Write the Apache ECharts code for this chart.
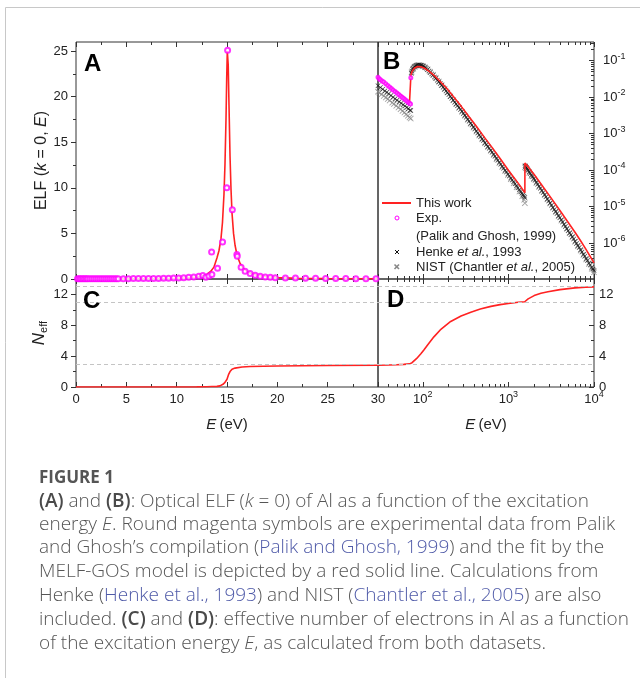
<!DOCTYPE html>
<html><head><meta charset="utf-8">
<script src="https://cdn.jsdelivr.net/npm/echarts@6/dist/echarts.min.js"></script>
<style>html,body{margin:0;padding:0;background:#fff}#c{width:640px;height:678px}</style>
</head><body><div id="c"></div>
<script>
// ---------------- DATA ----------------
// Panel A: ELF (k=0) vs E (eV), linear scale
const fitA = [[0,0.01],[2,0.01],[4,0.02],[6,0.03],[8,0.05],[10,0.09],[11,0.13],[12,0.22],[12.5,0.32],[13,0.5],[13.4,0.85],[13.7,1.3],[14.0,2.3],[14.2,3.1],[14.4,4.4],[14.55,6.2],[14.7,9.3],[14.8,12.6],[14.9,17.5],[14.97,22.0],[15.03,25.0],[15.07,25.2],[15.12,23.5],[15.2,19.0],[15.3,13.5],[15.4,9.8],[15.5,7.2],[15.65,5.0],[15.8,3.7],[16.0,2.6],[16.3,1.7],[16.6,1.2],[17.0,0.8],[17.5,0.55],[18,0.4],[19,0.25],[20,0.16],[22,0.09],[25,0.05],[30,0.03]];
const expA = [[0.15,0.04],[0.3,0.04],[0.45,0.04],[0.6,0.04],[0.75,0.04],[0.9,0.04],[1.05,0.04],[1.2,0.04],[1.4,0.04],[1.6,0.04],[1.8,0.04],[2.0,0.04],[2.2,0.04],[2.4,0.04],[2.6,0.04],[2.8,0.04],[3.0,0.04],[3.2,0.04],[3.4,0.04],[3.6,0.04],[3.8,0.04],[4.0,0.04],[4.2,0.04],[4.7,0.04],[5.2,0.04],[5.7,0.05],[6.2,0.05],[6.7,0.05],[7.2,0.05],[7.7,0.06],[8.2,0.06],[8.7,0.07],[9.2,0.08],[9.7,0.1],[10.2,0.12],[10.7,0.15],[11.2,0.18],[11.7,0.22],[12.2,0.3],[12.6,0.38],[12.9,0.2],[13.2,0.32],[13.47,2.96],[13.5,0.5],[14.06,1.18],[14.56,4.06],[14.98,10.0],[15.06,25.1],[15.53,7.6],[15.98,2.7],[16.02,2.5],[16.4,1.3],[16.8,0.85],[17.3,0.6],[17.8,0.42],[18.3,0.3],[18.8,0.22],[19.3,0.18],[19.8,0.15],[20.8,0.12],[21.8,0.1],[22.8,0.08],[23.8,0.07],[24.8,0.06],[25.8,0.05],[26.8,0.05],[27.8,0.04],[28.8,0.04],[29.8,0.04]];

// Panel B: ELF vs E, log-log
const fitB = [[30,0.032],[33,0.027],[36,0.0235],[40,0.0198],[45,0.0163],[50,0.0137],[55,0.0117],[60,0.0099],[65,0.0084],[70,0.0071],[72.6,0.0066],[72.7,0.040],[75,0.051],[80,0.063],[87,0.069],[95,0.068],[105,0.062],[120,0.050],[140,0.037],[160,0.027],[190,0.0175],[230,0.0102],[280,0.0057],[340,0.0031],[420,0.00163],[520,0.00082],[650,0.00041],[800,0.00021],[1000,0.0001],[1200,0.000057],[1400,0.000035],[1558,0.000024],[1560,0.000158],[1700,0.000124],[2000,0.000076],[2500,0.000037],[3000,0.0000205],[4000,0.0000079],[5000,0.0000037],[6000,0.000002],[7000,0.00000115],[8000,0.0000007],[9000,0.00000044],[10000,0.00000029]];
const expB = [[30,0.035],[31,0.032],[32,0.030],[33.5,0.028],[35,0.026],[37,0.0235],[39,0.021],[41,0.019],[43,0.0172],[45,0.0158],[47.5,0.0143],[50,0.013],[52.5,0.0118],[55,0.0108],[57.5,0.0099],[60,0.0092],[62.5,0.0085],[65,0.0079],[67.5,0.0073],[70,0.0068],[72,0.0065],[72.5,0.034]];
const henkeB = [[30,0.0205],[32,0.0183],[34,0.0165],[36,0.0149],[38,0.0136],[40,0.0124],[42.5,0.0111],[45,0.01],[47.5,0.0091],[50,0.0083],[53,0.0075],[56,0.0068],[59,0.0062],[62,0.0057],[65,0.0052],[68,0.0048],[71,0.0044],[72.5,0.0043],
[73.5,0.045],[74.7,0.052],[76,0.058],[77.5,0.063],[79,0.067],[81,0.07],[83,0.073],[85,0.075],[87,0.076],[89.5,0.0765],[92,0.076],[94.5,0.075],[97,0.074],[100,0.0715],[103,0.069],[106.5,0.0655],[110,0.062],[114,0.057],[118,0.052],[122.5,0.0478],[127,0.0435],[132,0.0397],[137,0.036],[142.5,0.0325],[148,0.0292],[154,0.0262],[160,0.0236],[166.5,0.021],[173,0.0187],[180,0.0166],[187,0.0148],[194.5,0.0132],[202,0.0118],[210,0.0105],[218,0.0093],[227,0.0082],[236,0.0073],[245.5,0.0065],[255,0.0058],[265.5,0.0052],[276,0.0046],[287,0.0041],[298,0.0036],[310,0.0032],[322,0.00282],[335,0.0025],[348,0.0022],[362,0.00195],[376,0.00172],[391,0.00152],[406,0.00135],[422,0.00119],[439,0.00105],[456,0.00093],[474,0.00083],[493,0.00073],[512,0.00065],[532,0.00057],[553,0.00051],[575,0.00045],[598,0.0004],[622,0.000352],[646,0.00031],[672,0.000273],[698,0.00024],[726,0.000212],[754,0.000188],[784,0.000165],[815,0.000146],[847,0.000129],[880,0.000114],[915,0.0001],[951,0.000089],[988,0.000079],[1027,0.00007],[1067,0.000061],[1110,0.000054],[1153,0.000048],[1199,0.0000425],[1245,0.0000375],[1295,0.000033],[1345,0.0000293],[1399,0.0000258],[1440,0.0000234],[1480,0.0000212],[1520,0.0000195],[1555,0.000018],
[1565,0.000132],[1590,0.000126],[1620,0.000118],[1660,0.000109],[1700,0.0001],[1750,0.000091],[1800,0.000082],[1860,0.000074],[1920,0.000066],[1980,0.000059],[2050,0.000053],[2120,0.000047],[2200,0.000041],[2280,0.0000365],[2370,0.000032],[2460,0.000028],[2550,0.0000245],[2650,0.0000214],[2750,0.0000187],[2850,0.0000164],[2960,0.0000144],[3070,0.0000126],[3190,0.000011],[3310,0.0000096],[3440,0.0000084],[3570,0.0000074],[3700,0.0000065],[3850,0.0000057],[3990,0.000005],[4150,0.0000044],[4300,0.0000038],[4470,0.0000033],[4630,0.0000029],[4810,0.0000025],[4990,0.0000022],[5180,0.0000019],[5370,0.0000017],[5580,0.0000015],[5790,0.0000013],[6010,0.00000114],[6240,0.00000099],[6480,0.00000087],[6720,0.00000076],[6980,0.00000066],[7240,0.00000058],[7520,0.0000005],[7800,0.00000044],[8100,0.00000038],[8400,0.000000335],[8730,0.00000029],[9050,0.000000255],[9400,0.000000222],[9750,0.000000195],[10000,0.00000018]];
const nistB = [[30,0.0142],[31,0.0134],[33,0.012],[35,0.0108],[37,0.0098],[39,0.0089],[41,0.0081],[44,0.0071],[46,0.0065],[49,0.0058],[52,0.0052],[55,0.0047],[58,0.0042],[61,0.0038],[64,0.0034],[67,0.0031],[70,0.0028],[72.4,0.0026],
[74,0.048],[77.5,0.06],[81,0.068],[85,0.073],[89.5,0.075],[94.5,0.074],[100,0.071],[106,0.066],[114,0.058],[122,0.05],[132,0.041],[142,0.034],[154,0.027],[166,0.0215],[180,0.017],[194,0.0135],[210,0.0106],[227,0.0083],[245,0.0065],[265,0.0051],[287,0.004],[310,0.0031],[335,0.0024],[362,0.00188],[391,0.00147],[422,0.00115],[456,0.0009],[493,0.0007],[532,0.00055],[575,0.00043],[622,0.00034],[672,0.00026],[726,0.0002],[784,0.000158],[847,0.000122],[915,0.000095],[988,0.000074],[1067,0.000057],[1153,0.000044],[1245,0.000034],[1345,0.000026],[1453,0.0000195],[1530,0.0000155],[1558,0.0000125],
[1563,0.00012],[1600,0.000113],[1660,0.0001],[1750,0.000085],[1860,0.00007],[1980,0.000057],[2120,0.000045],[2280,0.000035],[2460,0.000027],[2650,0.000021],[2850,0.000016],[3070,0.0000123],[3310,0.0000094],[3570,0.0000072],[3850,0.0000055],[4150,0.0000042],[4470,0.0000032],[4810,0.0000025],[5180,0.0000019],[5580,0.00000145],[6010,0.0000011],[6480,0.00000083],[6980,0.00000063],[7520,0.00000048],[8100,0.00000036],[8730,0.00000027],[9400,0.0000002],[10000,0.00000016]];

// Panels C and D: effective number of electrons
const neffC = [[0,0],[5,0],[10,0.005],[12,0.02],[13,0.04],[13.5,0.06],[14,0.08],[14.3,0.15],[14.6,0.35],[14.8,0.6],[15.0,1.0],[15.15,1.6],[15.3,2.0],[15.5,2.3],[15.8,2.45],[16.5,2.6],[17.3,2.66],[20,2.72],[25,2.78],[30,2.82]];
const neffD = [[30,2.82],[40,2.85],[50,2.88],[60,2.93],[70,3.0],[75,3.15],[85,3.7],[95,4.3],[103,4.8],[115,5.5],[135,6.5],[160,7.4],[212,8.5],[280,9.2],[364,9.7],[470,10.1],[625,10.45],[800,10.68],[1000,10.83],[1300,10.98],[1550,11.05],[1700,11.42],[2000,11.85],[2400,12.15],[2900,12.35],[4000,12.62],[6000,12.85],[8000,12.93],[10000,12.98]];
const neffLevels = [3, 11, 13];

// Tick values
const ticksE = [0,5,10,15,20,25,30];
const minorE = [2.5,7.5,12.5,17.5,22.5,27.5];
const ticksELF = [0,5,10,15,20,25];
const minorELF = [2.5,7.5,12.5,17.5,22.5];
const ticksLogE = [100,1000,10000];
const minorLogE = [40,50,60,70,80,90,200,300,400,500,600,700,800,900,2000,3000,4000,5000,6000,7000,8000,9000];
const ticksLogELF = [1e-6,1e-5,1e-4,1e-3,1e-2,1e-1];
const minorLogELF = [2e-7,3e-7,4e-7,5e-7,6e-7,7e-7,8e-7,9e-7,2e-6,3e-6,4e-6,5e-6,6e-6,7e-6,8e-6,9e-6,2e-5,3e-5,4e-5,5e-5,6e-5,7e-5,8e-5,9e-5,2e-4,3e-4,4e-4,5e-4,6e-4,7e-4,8e-4,9e-4,2e-3,3e-3,4e-3,5e-3,6e-3,7e-3,8e-3,9e-3,2e-2,3e-2,4e-2,5e-2,6e-2,7e-2,8e-2,9e-2,2e-1,3e-1];
const ticksNeff = [0,4,8,12];
const minorNeff = [2,6,10];

const legendLabels = ['This work','Exp.','(Palik and Ghosh, 1999)','Henke {i|et al.}, 1993','NIST (Chantler {i|et al.}, 2005)'];
const captionTitle = 'FIGURE 1';
const captionLines = [
 '{b|(A)} and {b|(B)}: Optical ELF ({i|k} = 0) of Al as a function of the excitation',
 'energy {i|E}. Round magenta symbols are experimental data from Palik',
 'and Ghosh\u2019s compilation ({l|Palik and Ghosh, 1999}) and the fit by the',
 'MELF-GOS model is depicted by a red solid line. Calculations from',
 'Henke ({l|Henke et al., 1993}) and NIST ({l|Chantler et al., 2005}) are also',
 'included. {b|(C)} and {b|(D)}: effective number of electrons in Al as a function',
 'of the excitation energy {i|E}, as calculated from both datasets.'
];

// ---------------- STYLE ----------------
const FONT = '"Liberation Sans", Arial, Helvetica, sans-serif';
const CFONT = '"Open Sans", "Noto Sans", sans-serif';
const AX = '#333';
const TXT = '#222';
const RED = '#ff2222';
const MAG = '#ff00ff';
const grids = [
  {left:76, top:42, width:302, height:237},
  {left:378, top:42, width:216, height:237},
  {left:76, top:279, width:302, height:108},
  {left:378, top:279, width:216, height:108}
];
const supRich = {
  b:{fontSize:13, lineHeight:18, fontFamily:FONT, color:TXT},
  s:{fontSize:9, lineHeight:9, verticalAlign:'top', fontFamily:FONT, color:TXT}
};
function supFmt(v){ const e = Math.round(Math.log10(v)); return '{b|10}{s|' + e + '}'; }

function tickAxis(grid, type, pos, min, max, tickVals, len, inside, extra) {
  const a = {
    type: type, gridIndex: grid, position: pos, min: min, max: max,
    axisLine: {show:false, onZero:false},
    splitLine: {show:false}, minorTick:{show:false},
    axisTick: {show:true, inside: inside, length: len, customValues: tickVals, lineStyle:{color:AX, width:1}},
    axisLabel: {show:false},
    silent: true
  };
  if (type === 'log') a.logBase = 10;
  return Object.assign(a, extra || {});
}
const lblStyle = {fontFamily:FONT, fontSize:13, color:TXT};
const eName = {
  name: '{i|E} {n|(eV)}', nameLocation:'middle', nameGap: 30,
  nameTextStyle: {rich:{i:{fontFamily:FONT, fontSize:15, fontStyle:'italic', color:TXT}, n:{fontFamily:FONT, fontSize:15, color:TXT}}}
};

const xAxis = [
  tickAxis(0,'value','bottom',0,30,ticksE,5,true),
  tickAxis(0,'value','bottom',0,30,minorE,3,true),
  tickAxis(0,'value','top',0,30,ticksE,5,true),
  tickAxis(0,'value','top',0,30,minorE,3,true),
  tickAxis(1,'log','bottom',30,10000,ticksLogE,5,true),
  tickAxis(1,'log','bottom',30,10000,minorLogE,3,true),
  tickAxis(1,'log','top',30,10000,ticksLogE,5,true),
  tickAxis(1,'log','top',30,10000,minorLogE,3,true),
  tickAxis(2,'value','bottom',0,30,ticksE,5,true, Object.assign({axisLabel:Object.assign({show:true, customValues:ticksE, margin:6}, lblStyle)}, eName)),
  tickAxis(2,'value','bottom',0,30,minorE,3,true),
  tickAxis(2,'value','top',0,30,ticksE,5,true),
  tickAxis(2,'value','top',0,30,minorE,3,true),
  tickAxis(3,'log','bottom',30,10000,ticksLogE,5,true, Object.assign({axisLabel:{show:true, customValues:ticksLogE, margin:3, formatter:supFmt, rich:supRich}}, eName)),
  tickAxis(3,'log','bottom',30,10000,minorLogE,3,true),
  tickAxis(3,'log','top',30,10000,ticksLogE,5,true),
  tickAxis(3,'log','top',30,10000,minorLogE,3,true)
];
const yAxis = [
  tickAxis(0,'value','left',0,26,ticksELF,5,false, {
    axisLabel:Object.assign({show:true, customValues:ticksELF, margin:8}, lblStyle),
    name:'{n|ELF (}{i|k}{n| = 0, }{i|E}{n|)}', nameLocation:'middle', nameRotate:90, nameGap:26,
    nameTextStyle:{rich:{n:{fontFamily:FONT, fontSize:16, color:TXT}, i:{fontFamily:FONT, fontSize:16, fontStyle:'italic', color:TXT}}}
  }),
  tickAxis(0,'value','left',0,26,minorELF,3,false),
  tickAxis(1,'log','right',1.05e-7,0.325,ticksLogELF,5,true, {
    axisLabel:{show:true, customValues:ticksLogELF, margin:9, formatter:supFmt, rich:supRich}
  }),
  tickAxis(1,'log','right',1.05e-7,0.325,minorLogELF,3,true),
  tickAxis(2,'value','left',0,14,ticksNeff,5,false, {
    axisLabel:Object.assign({show:true, customValues:ticksNeff, margin:8}, lblStyle),
    name:'{i|N}{s|eff}', nameLocation:'middle', nameRotate:90, nameGap:24,
    nameTextStyle:{rich:{i:{fontFamily:FONT, fontSize:17, fontStyle:'italic', color:TXT, lineHeight:20}, s:{fontFamily:FONT, fontSize:11, color:TXT, verticalAlign:'bottom', lineHeight:11}}}
  }),
  tickAxis(2,'value','left',0,14,minorNeff,3,false),
  tickAxis(3,'value','right',0,14,ticksNeff,5,true, {
    axisLabel:Object.assign({show:true, customValues:ticksNeff, margin:5}, lblStyle)
  }),
  tickAxis(3,'value','right',0,14,minorNeff,3,true)
];

const dashed = {
  silent:true, symbol:['none','none'], label:{show:false},
  lineStyle:{color:'#c4c4c4', type:[4,3], width:1},
  data: neffLevels.map(v => ({yAxis:v}))
};
const xMark = 'path://M0,1L1,0L5,4L9,0L10,1L6,5L10,9L9,10L5,6L1,10L0,9L4,5Z';

const series = [
  {name:'This work', type:'line', xAxisIndex:0, yAxisIndex:0, data:fitA, showSymbol:false, lineStyle:{color:RED, width:1.6}, z:3},
  {name:'Exp.', type:'scatter', xAxisIndex:0, yAxisIndex:0, data:expA, symbol:'emptyCircle', symbolSize:5, itemStyle:{color:MAG, borderColor:MAG, borderWidth:0.9}, z:4},
  {name:'NIST (Chantler et al., 2005)', type:'scatter', xAxisIndex:4, yAxisIndex:2, data:nistB, symbol:xMark, symbolSize:6, itemStyle:{color:'#8a8a8a'}, z:2},
  {name:'Henke et al., 1993', type:'scatter', xAxisIndex:4, yAxisIndex:2, data:henkeB, symbol:xMark, symbolSize:5, itemStyle:{color:'#111'}, z:2},
  {name:'This work', type:'line', xAxisIndex:4, yAxisIndex:2, data:fitB, showSymbol:false, lineStyle:{color:RED, width:1.6}, z:3},
  {name:'Exp.', type:'scatter', xAxisIndex:4, yAxisIndex:2, data:expB, symbol:'emptyCircle', symbolSize:3, itemStyle:{color:MAG, borderColor:MAG, borderWidth:0.8}, z:4},
  {name:'Neff C', type:'line', xAxisIndex:8, yAxisIndex:4, data:neffC, showSymbol:false, lineStyle:{color:RED, width:1.6}, markLine:dashed, z:3},
  {name:'Neff D', type:'line', xAxisIndex:12, yAxisIndex:6, data:neffD, showSymbol:false, lineStyle:{color:RED, width:1.6}, markLine:dashed, z:3}
];

// graphic: panel letters, legend, caption, frame
const letters = [['A',84,64],['B',383,62],['C',83,301],['D',387,300]];
const graphic = [];
graphic.push({type:'line', shape:{x1:5.5,y1:7.5,x2:640,y2:7.5}, style:{stroke:'#c8c8c8', lineWidth:1}, silent:true});
graphic.push({type:'line', shape:{x1:5.5,y1:7.5,x2:5.5,y2:678}, style:{stroke:'#c8c8c8', lineWidth:1}, silent:true});
letters.forEach(l => graphic.push({type:'text', x:l[1], y:l[2], z:10, style:{text:l[0], fontFamily:FONT, fontWeight:'bold', fontSize:24, fill:'#000', verticalAlign:'middle', align:'left'}}));
// legend (panel B)
const LX = 416, LY = [203, 218, 236, 252, 267];
graphic.push({type:'line', shape:{x1:382,y1:LY[0],x2:411,y2:LY[0]}, style:{stroke:RED, lineWidth:2}, z:10});
graphic.push({type:'circle', shape:{cx:397,cy:LY[1],r:2}, style:{stroke:MAG, fill:'#fff', lineWidth:1}, z:10});
graphic.push({type:'line', shape:{x1:395,y1:250,x2:399,y2:254}, style:{stroke:'#111', lineWidth:1}, z:10});
graphic.push({type:'line', shape:{x1:399,y1:250,x2:395,y2:254}, style:{stroke:'#111', lineWidth:1}, z:10});
graphic.push({type:'line', shape:{x1:394.5,y1:264.5,x2:399,y2:269}, style:{stroke:'#888', lineWidth:1.6}, z:10});
graphic.push({type:'line', shape:{x1:399,y1:264.5,x2:394.5,y2:269}, style:{stroke:'#888', lineWidth:1.6}, z:10});
legendLabels.forEach((t,i) => graphic.push({type:'text', x:LX, y:LY[i], z:10, style:{text:t, fontFamily:FONT, fontSize:13, fill:TXT, verticalAlign:'middle', align:'left', rich:{i:{fontFamily:FONT, fontSize:13, fontStyle:'italic', fill:TXT}}}}));
// caption
graphic.push({type:'text', x:39, y:478, style:{text:captionTitle, fontFamily:CFONT, fontWeight:'bold', fontSize:17, fill:'#555', verticalAlign:'middle'}});
const capY = [502, 525, 548, 572, 596, 620, 644];
const CFS = 19;
captionLines.forEach((t,i) => graphic.push({type:'text', x:39, y:capY[i], style:{text:t, fontFamily:CFONT, fontSize:CFS, fontWeight:300, fill:'#555', verticalAlign:'middle', align:'left',
  rich:{b:{fontFamily:CFONT, fontSize:CFS, fontWeight:600, fill:'#4a4a4a'}, i:{fontFamily:CFONT, fontSize:CFS, fontWeight:300, fontStyle:'italic', fill:'#555'}, l:{fontFamily:CFONT, fontSize:CFS, fontWeight:300, fill:'#4f5aa8'}}}}));

const option = {
  animation:false,
  backgroundColor:'#fff',
  grid: grids.map(g => Object.assign({show:true, borderColor:AX, borderWidth:1, backgroundColor:'transparent'}, g)),
  xAxis: xAxis, yAxis: yAxis, series: series, graphic: graphic
};
const chart = echarts.init(document.getElementById('c'), null, {renderer:'canvas', width:640, height:678});
chart.setOption(option);
</script></body></html>
